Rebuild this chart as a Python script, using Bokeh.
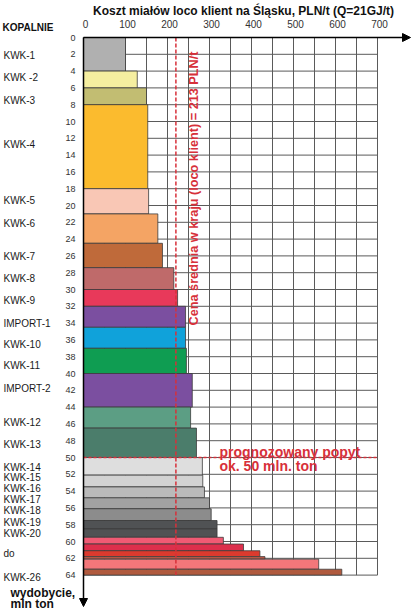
import math
from bokeh.plotting import figure
from bokeh.models import Range1d, ColumnDataSource, Arrow, NormalHead
from bokeh.core.properties import value
from bokeh.embed import file_html
from bokeh.resources import INLINE

# ---------------- data ----------------
mines = ["KWK-1", "KWK-2", "KWK-3", "KWK-4", "KWK-5", "KWK-6", "KWK-7", "KWK-8",
         "KWK-9", "IMPORT-1", "KWK-10", "KWK-11", "IMPORT-2", "KWK-12", "KWK-13",
         "KWK-14", "KWK-15", "KWK-16", "KWK-17", "KWK-18", "KWK-19", "KWK-20",
         "KWK-21", "KWK-22", "KWK-23", "KWK-24", "KWK-25", "KWK-26"]
output_mt = [4.0, 2.0, 2.0, 10.0, 3.0, 3.5, 2.9, 2.6,
             2.0, 2.5, 2.5, 3.0, 4.0, 2.5, 3.5,
             2.1, 1.4, 1.3, 1.3, 1.4, 1.0, 1.0,
             0.8, 0.8, 0.7, 0.3, 1.2, 0.7]
cost_pln_t = [100, 128, 150, 153, 155, 177, 188, 215,
              224, 243, 243, 245, 259, 255, 269,
              283, 284, 288, 300, 304, 318, 318,
              333, 381, 420, 432, 560, 615]
colors = ["#b0b0b0", "#f5eea0", "#c2bd72", "#fbbb2e", "#f9c7b5", "#f4a464", "#bf6a3a", "#bf6a6a",
          "#e8395a", "#7b4fa0", "#10a2da", "#0f9d52", "#7b4fa0", "#5c9e84", "#4b7d6b",
          "#dedede", "#d2d2d2", "#bababa", "#a2a2a2", "#8c8c8c", "#505254", "#505254",
          "#f05a74", "#dd2f4c", "#dc3a2e", "#c05a48", "#f3777a", "#b05a3e"]

row_labels = ["KWK-1", "KWK -2", "KWK-3", "KWK-4", "KWK-5", "KWK-6", "KWK-7", "KWK-8",
              "KWK-9", "IMPORT-1", "KWK-10", "KWK-11", "IMPORT-2", "KWK-12", "KWK-13",
              "KWK-14", "KWK-15", "KWK-16", "KWK-17", "KWK-18", "KWK-19", "KWK-20",
              "do", "KWK-26"]
row_label_pos = [2.1, 4.8, 7.5, 12.7, 19.4, 22.1, 26.1, 28.7,
                 31.3, 34.0, 36.5, 39.0, 41.8, 45.8, 48.5,
                 51.2, 52.4, 53.7, 55.0, 56.3, 57.7, 59.0,
                 61.4, 64.3]

x_ticks = [0, 100, 200, 300, 400, 500, 600, 700]
x_grid = [50, 100, 150, 200, 250, 300, 350, 400, 450, 500, 550, 600, 650, 700]
y_ticks = list(range(0, 65, 2))

avg_price_text = "Cena średnia w kraju (loco klient) = 213 PLN/t"
avg_price_line = 220
demand_mt = 50
demand_text = ["prognozowany popyt", "ok.  50 mln. ton"]
title_text = "Koszt miałów loco klient na Śląsku, PLN/t (Q=21GJ/t)"

# ---------------- layout ----------------
W, H = 411, 611
X0_PX, X_SCALE = 83, 0.42      # px of value 0, px per PLN/t
Y0_PX, Y_SCALE = 37, 8.4       # px of value 0, px per mln t
def at_px(px):
    return (px - X0_PX) / X_SCALE
def at_py(py):
    return (py - Y0_PX) / Y_SCALE

FONT = value("Liberation Sans")
RED = "#d7303a"

cum_end = []
s = 0.0
for v in output_mt:
    s += v
    cum_end.append(round(s, 3))
cum_start = [0.0] + cum_end[:-1]
total = cum_end[-1]
x_max = x_ticks[-1]

p = figure(width=W, height=H,
           x_range=Range1d(at_px(0), at_px(W)),
           y_range=Range1d(at_py(H), at_py(0)),
           x_axis_location=None, y_axis_location=None,
           output_backend="svg", toolbar_location=None, min_border=0)
p.grid.visible = False
p.outline_line_color = None
p.background_fill_color = "white"
p.border_fill_color = "white"

# grid
p.segment(x0=x_grid, y0=[0] * len(x_grid), x1=x_grid, y1=[total] * len(x_grid),
          line_color="#5a5a5a", line_width=1)
hy = y_ticks[1:]
p.segment(x0=[0] * len(hy), y0=hy, x1=[x_max] * len(hy), y1=hy,
          line_color="#5a5a5a", line_width=1)

# bars
src = ColumnDataSource(dict(left=[0] * len(mines), right=cost_pln_t,
                            top=cum_start, bottom=cum_end, color=colors, mine=mines))
p.quad(left="left", right="right", top="top", bottom="bottom", source=src,
       fill_color="color", line_color="#3c3c3c", line_width=0.8)

# reference lines
p.segment(x0=[avg_price_line], y0=[0], x1=[avg_price_line], y1=[total],
          line_color=RED, line_width=1.5, line_dash="4 2")
p.segment(x0=[0], y0=[demand_mt], x1=[x_max], y1=[demand_mt],
          line_color=RED, line_width=1.5, line_dash="3 2")

# axes with arrows
p.add_layout(Arrow(end=NormalHead(size=8, fill_color="black", line_color="black"),
                   x_start=0, y_start=0, x_end=at_px(W - 1), y_end=0,
                   line_color="black", line_width=1.5))
p.add_layout(Arrow(end=NormalHead(size=8, fill_color="black", line_color="black"),
                   x_start=0, y_start=0, x_end=0, y_end=at_py(606),
                   line_color="black", line_width=1.5))

# tick labels
p.text(x=x_ticks, y=[0] * len(x_ticks), text=[str(t) for t in x_ticks],
       x_offset=2, y_offset=-14, text_align="center", text_baseline="middle",
       text_font=FONT, text_font_size="10px", text_color="#333333")
p.text(x=[0] * len(y_ticks), y=y_ticks, text=[str(t) for t in y_ticks],
       x_offset=-8, text_align="right", text_baseline="middle",
       text_font=FONT, text_font_size="9px", text_color="#333333")

# row labels
p.text(x=[at_px(3)] * len(row_labels), y=row_label_pos, text=row_labels,
       text_align="left", text_baseline="middle",
       text_font=FONT, text_font_size="10px", text_color="#1a1a1a")

# headings
p.text(x=[at_px(2)], y=[0], text=["KOPALNIE"], y_offset=-10,
       text_align="left", text_baseline="middle", text_font=FONT,
       text_font_style="bold", text_font_size="10px", text_color="#111111")
p.text(x=[at_px(243)], y=[0], text=[title_text], y_offset=-27,
       text_align="center", text_baseline="middle", text_font=FONT,
       text_font_style="bold", text_font_size="12px", text_color="#111111")
p.text(x=[at_px(10), at_px(10)], y=[total, total], text=["wydobycie,", "mln ton"],
       y_offset=[18, 29], text_align="left", text_baseline="middle", text_font=FONT,
       text_font_style="bold", text_font_size="12px", text_color="#111111")

# red annotations
p.text(x=[at_px(193)], y=[at_py(188)], text=[avg_price_text], angle=math.pi / 2,
       text_align="center", text_baseline="middle", text_font=FONT,
       text_font_style="bold", text_font_size="12.7px", text_color=RED)
p.text(x=[at_px(219), at_px(219)], y=[demand_mt, demand_mt], text=demand_text,
       y_offset=[-6, 8], text_align="left", text_baseline="middle", text_font=FONT,
       text_font_style="bold", text_font_size="14px", text_color=RED)

open("out.html", "w").write(file_html(p, INLINE))
